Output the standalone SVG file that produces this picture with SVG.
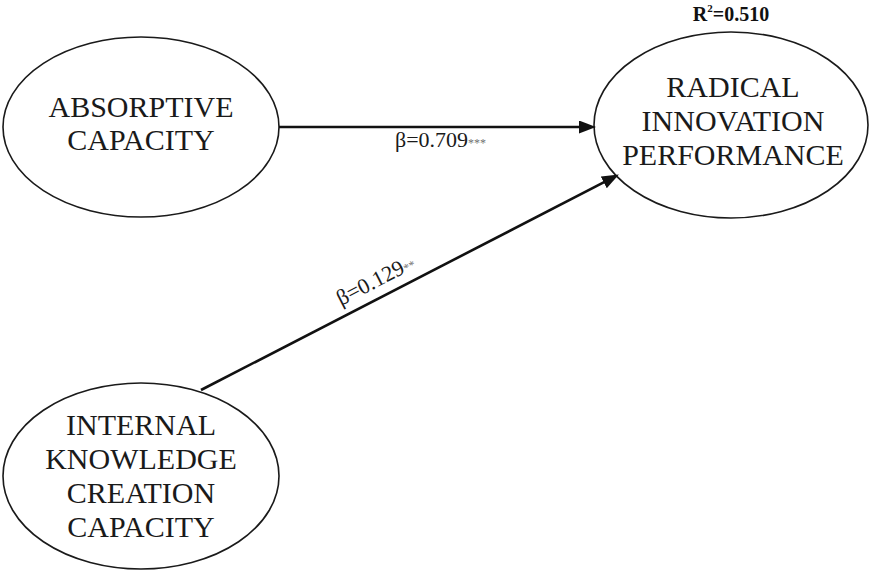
<svg xmlns="http://www.w3.org/2000/svg" width="870" height="572" viewBox="0 0 870 572">
  <style>
    .node { fill: #ffffff; stroke: #1a1a1a; stroke-width: 1.6; }
    .label { font-family: "Liberation Serif", "Times New Roman", serif; font-size: 30px; fill: #1a1a1a; text-anchor: middle; }
    .edge { stroke: #111111; stroke-width: 2.6; fill: none; }
    .coef { font-family: "Liberation Serif", "Times New Roman", serif; font-size: 22px; fill: #1a1a1a; }
    .sig { font-size: 12px; fill: #707070; }
    .r2 { font-family: "Liberation Serif", "Times New Roman", serif; font-size: 20px; font-weight: bold; fill: #111111; text-anchor: middle; }
  </style>
  <defs>
    <marker id="arrow" markerUnits="userSpaceOnUse" markerWidth="18" markerHeight="14" refX="8" refY="6.5" orient="auto">
      <path d="M0,0 L17,6.5 L0,13 z" fill="#111111"/>
    </marker>
  </defs>

  <!-- constructs -->
  <g id="absorptive-capacity">
    <ellipse class="node" cx="141" cy="127" rx="138" ry="90"/>
    <text class="label" x="141" y="117">ABSORPTIVE</text>
    <text class="label" x="141" y="150">CAPACITY</text>
  </g>

  <g id="radical-innovation-performance">
    <ellipse class="node" cx="731" cy="125" rx="137" ry="93"/>
    <text class="label" x="733" y="97">RADICAL</text>
    <text class="label" x="733" y="131">INNOVATION</text>
    <text class="label" x="733" y="165">PERFORMANCE</text>
  </g>

  <g id="internal-knowledge-creation-capacity">
    <ellipse class="node" cx="141" cy="476" rx="138" ry="93"/>
    <text class="label" x="141" y="435">INTERNAL</text>
    <text class="label" x="141" y="469">KNOWLEDGE</text>
    <text class="label" x="141" y="503">CREATION</text>
    <text class="label" x="141" y="537">CAPACITY</text>
  </g>

  <g id="r-squared">
    <text class="r2" x="731" y="21">R<tspan font-size="11" dy="-9">2</tspan><tspan dy="9">=0.510</tspan></text>
  </g>

  <!-- structural paths -->
  <g id="connectors">
    <line class="edge" x1="279" y1="127" x2="587" y2="127" marker-end="url(#arrow)"/>
    <line class="edge" x1="201" y1="390" x2="610.9" y2="178.7" marker-end="url(#arrow)"/>
    <text class="coef" x="395" y="147">β=0.709<tspan class="sig">***</tspan></text>
    <text class="coef" x="341" y="306" transform="rotate(-27.3 341 306)">β=0.129<tspan class="sig">**</tspan></text>
  </g>
</svg>
